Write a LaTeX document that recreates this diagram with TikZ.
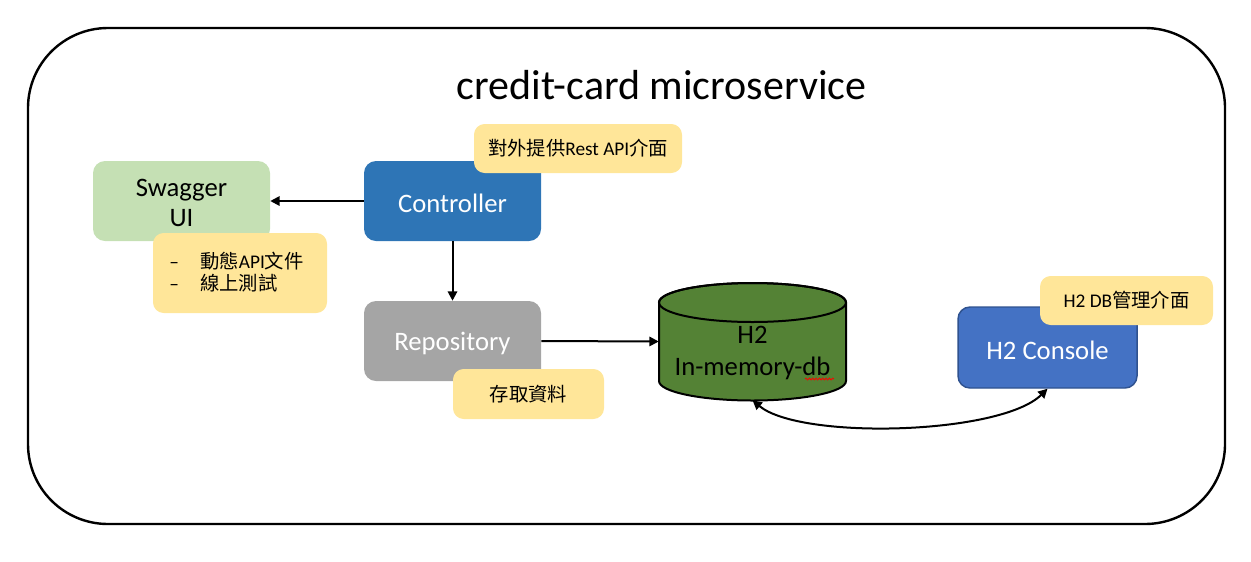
\documentclass[tikz,border=0pt]{standalone}
\usepackage{fontspec}
\setmainfont{Carlito}
\newfontfamily\cjk{Noto Sans CJK TC}
\usetikzlibrary{arrows.meta,decorations.pathmorphing}
\definecolor{swagfill}{HTML}{C5E0B4}
\definecolor{ctrlfill}{HTML}{2E75B6}
\definecolor{notefill}{HTML}{FFE699}
\definecolor{repofill}{HTML}{A5A5A5}
\definecolor{dbfill}{HTML}{548235}
\definecolor{consfill}{HTML}{4472C4}
\definecolor{consdraw}{HTML}{2F528F}
\tikzset{
  boxbase/.style={rectangle, rounded corners=9pt, inner sep=0pt, align=center,
    minimum width=132.75pt, minimum height=60pt},
  boxtext/.style={inner sep=0pt, align=center, font=\fontsize{20pt}{22.5pt}\selectfont},
  notebox/.style={rectangle, rounded corners=8pt, fill=notefill, inner sep=0pt,
    font=\fontsize{14.5pt}{16pt}\selectfont},
  arr/.style={line width=1.5pt, -{Triangle[length=7pt,width=7pt]}},
  arrboth/.style={line width=1.5pt, {Triangle[length=7pt,width=7pt]}-{Triangle[length=7pt,width=7pt]}}
}
\begin{document}
\begin{tikzpicture}[x=0.75pt,y=-0.75pt]
\useasboundingbox (0,0) rectangle (1251,561);
% outer frame
\draw[line width=1.8pt, rounded corners=60pt] (28,28) rectangle (1225,524);
\node[font=\fontsize{31.5pt}{36pt}\selectfont] (title) at (661.5,85) {credit-card microservice};

% main boxes
\node[boxbase, fill=swagfill] (swag) at (181.5,201) {};
\node[boxtext] (swagtext) at (181.5,202.5) {Swagger\\UI};
\node[boxbase, fill=ctrlfill] (ctrl) at (452.5,201) {};
\node[boxtext, text=white] (ctrltext) at (452.5,203) {Controller};
\node[boxbase, fill=repofill] (repo) at (452.5,341) {};
\node[boxtext, text=white] (repotext) at (452.5,343) {Repository};
\node[boxbase, fill=consfill, draw=consdraw, line width=1.1pt,
  minimum width=134.25pt, minimum height=60.75pt] (cons) at (1047.5,347.5) {};
\node[boxtext, text=white] (constext) at (1047.5,350) {H2 Console};

% database cylinder
\filldraw[fill=dbfill, draw=black, line width=1.5pt]
  (659,302.5) -- (659,381)
  arc[start angle=180, end angle=360, x radius=70.125pt, y radius=14.625pt]
  -- (846,302.5)
  arc[start angle=0, end angle=180, x radius=70.125pt, y radius=14.625pt] -- cycle;
\draw[line width=1.5pt] (752.5,302.5) ellipse[x radius=70.125pt, y radius=14.625pt];
\node[inner sep=0pt, minimum width=140.25pt, minimum height=87.75pt] (db) at (752.5,341.5) {};
\node[align=center, font=\fontsize{20pt}{24pt}\selectfont] (dbtext) at (752.5,353) {H2\\In-memory-db};
\draw[red, line width=0.6pt, decorate, decoration={snake, amplitude=0.7pt, segment length=2.5pt}]
  (805,379) -- (834,379);

% notes
\node[notebox, minimum width=156pt, minimum height=36.75pt] (n1) at (578,148.5)
  {{\cjk 對外提供}Rest API{\cjk 介面}};
\node[notebox, minimum width=130.5pt, minimum height=60pt] (n2) at (240,273) {};
\node[anchor=west, inner sep=0pt, font=\fontsize{14.5pt}{15pt}\selectfont] (n2text) at (169,274)
  {\begin{tabular}{@{}l@{\hspace{16pt}}l@{}}
   -- & {\cjk 動態}API{\cjk 文件}\\
   -- & {\cjk 線上測試}
   \end{tabular}};
\node[notebox, minimum width=113.25pt, minimum height=37.5pt] (n3) at (528.5,394) {\cjk 存取資料};
\node[notebox, minimum width=129.75pt, minimum height=36.75pt] (n4) at (1126.5,300.5)
  {H2 DB{\cjk 管理介面}};

% connectors
\draw[arr] (ctrl.west) -- (swag.east);
\draw[arr] (ctrl.south) -- (repo.north);
\draw[arr] (repo.east) -- (db.west);
\draw[arrboth] (db.south) .. controls (800,440) and (1000,435) .. (cons.south);
\end{tikzpicture}
\end{document}
